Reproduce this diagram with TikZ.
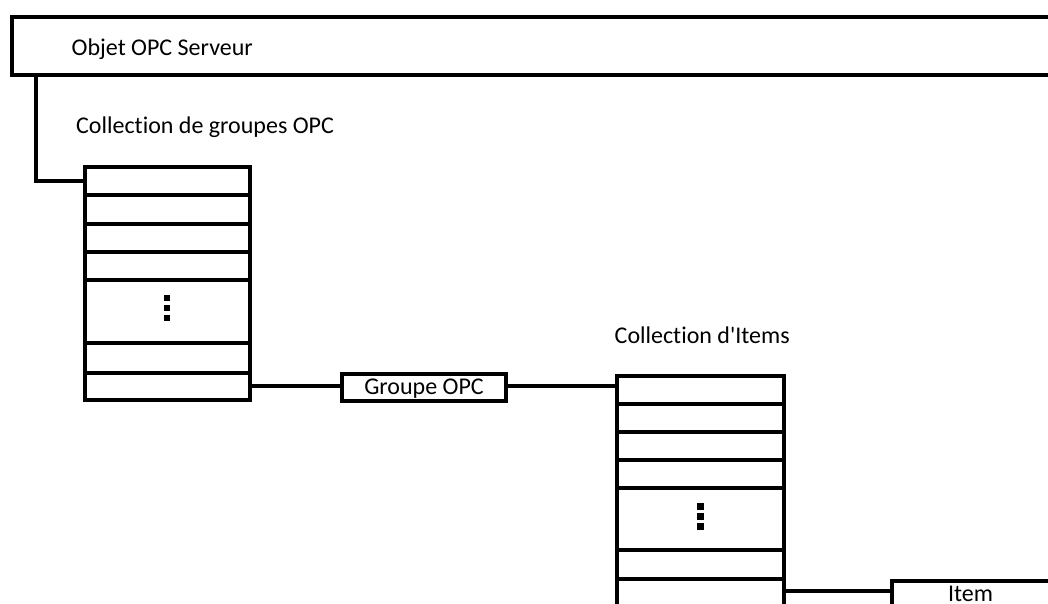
\documentclass[tikz,border=0pt]{standalone}
\usepackage{fontspec}
\newfontfamily\calfont{Carlito}[Ligatures=NoCommon]
\usetikzlibrary{calc}
\begin{document}
\begin{tikzpicture}[x=1pt,y=-1pt,
  box/.style={draw, line width=4pt, inner sep=0pt, outer sep=0pt, anchor=north west},
  lbl/.style={inner sep=0pt, font=\calfont\fontsize{24}{28}\selectfont, anchor=base west},
  wire/.style={draw, line width=4pt},
  dotsq/.style={fill=black, minimum size=6.5pt, inner sep=0pt, outer sep=0pt}]
\useasboundingbox (0,0) rectangle (1048,604);
\clip (0,0) rectangle (1048,604);
% server object
\node[box, minimum width=1080pt, minimum height=58.5pt] (srv) at (11.7,17) {};
\node[lbl] (srvtxt) at (71.5,56) {Objet OPC Serveur};
% group collection
\node[lbl] (gtxt) at (76,133.3) {Collection de groupes OPC};
\foreach \n/\t/\h in {1/167.5/27.5, 2/195/29, 3/224/28, 4/252/28, 5/280/63, 6/343/29.5, 7/372.5/27}
  \node[box, minimum width=165.2pt, minimum height=\h pt] (g\n) at (84.5,\t) {};
\foreach \d in {-13.5,-3.5,6.5}
  \node[dotsq] at ($(g5.center)+(0,\d)$) {};
% items collection
\node[lbl] (itxt) at (614.5,343.3) {Collection d'Items};
\foreach \n/\t/\h in {1/375.7/28, 2/403.7/28.3, 3/432/28, 4/460/28, 5/488/62, 6/550/28.7, 7/578.7/70}
  \node[box, minimum width=166.4pt, minimum height=\h pt] (i\n) at (617.3,\t) {};
\foreach \d in {-12.7,-2.7,7.7}
  \node[dotsq] at ($(i5.center)+(0,\d)$) {};
% group object
\node[box, anchor=center, minimum width=164.6pt, minimum height=27.3pt,
      font=\calfont\fontsize{24}{28}\selectfont, text height=16pt, text depth=2pt] (grp) at (424,387.3) {Groupe OPC};
% item object
\node[box, minimum width=200pt, minimum height=60pt] (item) at (892,581.3) {};
\node[lbl, anchor=base] (itemtxt) at (970.5,601.8) {Item};
% connectors
\coordinate (srvtap) at ($(srv.south west)+(24.3,0)$);
\draw[wire] (srvtap) |- (g1.west);
\draw[wire] (g7.east) -- (g7.east -| grp.west);
\draw[wire] (g7.east -| grp.east) -- (g7.east -| i1.west);
\coordinate (itap) at ($(i7.north east)+(0,12.6)$);
\draw[wire] (itap) -- (itap -| item.west);
\end{tikzpicture}
\end{document}
